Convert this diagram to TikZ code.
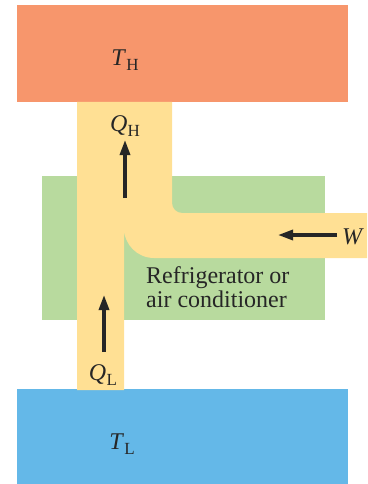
\documentclass[tikz,border=0pt]{standalone}
\usepackage{fontspec}
\setmainfont{Liberation Serif}
\usetikzlibrary{arrows.meta}
\definecolor{hotred}{RGB}{247,150,108}
\definecolor{flowyel}{RGB}{255,224,148}
\definecolor{machgreen}{RGB}{184,218,158}
\definecolor{coldblue}{RGB}{100,184,232}
\newcommand{\symsub}[2]{\textit{#1}\kern0.3pt\raisebox{-0.4ex}{\fontsize{17}{17}\selectfont #2}}
\begin{document}
\begin{tikzpicture}[x=1pt,y=-1pt,
  lbl/.style={font=\fontsize{24}{24}\selectfont, inner sep=0pt, text=black!85},
  flowarrow/.style={line width=3.2pt, draw=black!85, -{Triangle[length=15pt,width=10pt]}}]
\useasboundingbox (0,0) rectangle (367,484);
% reservoirs and machine
\fill[hotred] (17,5) rectangle (348,102);
\fill[coldblue] (17,389) rectangle (348,484);
\fill[machgreen] (42,176) rectangle (325,320);
% energy flow band
\fill[flowyel] (77,102) -- (172,102) -- (172,203)
  .. controls (172,208.5) and (176.5,213) .. (182,213)
  -- (367,213) -- (367,258) -- (154,258)
  .. controls (137.4,258) and (124,244.6) .. (124,228)
  -- (124,390) -- (77,390) -- cycle;
% labels
\node[lbl] (th) at (125,60) {\symsub{T}{H}};
\node[lbl] (qh) at (125,126) {\symsub{Q}{H}};
\node[lbl] (tl) at (122,444) {\symsub{T}{L}};
\node[lbl] (ql) at (103,375) {\symsub{Q}{L}};
\node[lbl] (w) at (353,237) {\textit{W}};
\node[lbl, align=left, anchor=north west] (fridge) at (146,266.5) {Refrigerator or\\air conditioner};
% arrows
\coordinate (qhs) at (125,198);
\coordinate (qhe) at (125,140);
\coordinate (ws) at (337,235);
\coordinate (we) at (278,235);
\coordinate (qls) at (104,352);
\coordinate (qle) at (104,295);
\draw[flowarrow] (qhs) -- (qhe);
\draw[flowarrow] (ws) -- (we);
\draw[flowarrow] (qls) -- (qle);
\end{tikzpicture}
\end{document}
